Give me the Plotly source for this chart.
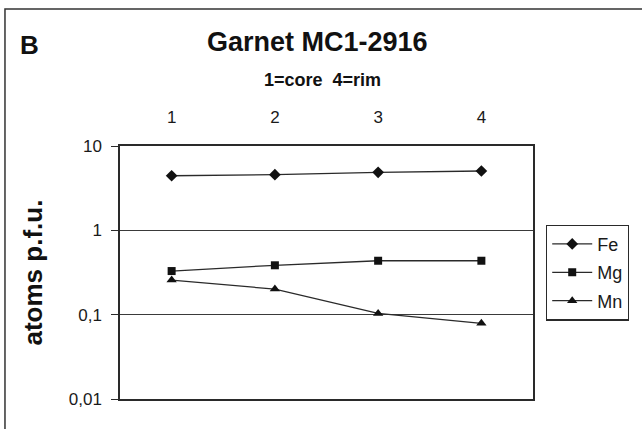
import plotly.graph_objects as go

points = ["1", "2", "3", "4"]
fe = [4.44, 4.57, 4.87, 5.05]
mg = [0.329, 0.385, 0.436, 0.436]
mn = [0.257, 0.201, 0.1035, 0.079]
series_names = ["Fe", "Mg", "Mn"]
y_tickvals = [0.01, 0.1, 1, 10]
y_ticktext = ["0,01", "0,1", "1", "10"]

FONT = "Liberation Sans, Arial, sans-serif"
INK = "#1a1a1a"
LINE = "#2a2a2a"

fig = go.Figure()
for name, vals, sym, size in zip(series_names, [fe, mg, mn],
                                  ["diamond", "square", "triangle-up"], [9, 8, 9]):
    fig.add_trace(go.Scatter(
        x=points, y=vals, name=name, mode="lines+markers",
        line=dict(color=LINE, width=1.3),
        marker=dict(symbol=sym, size=size, color="#111"),
        legendgroup=name,
    ))

fig.update_layout(
    width=642, height=429,
    margin=dict(l=120, r=109, t=146, b=30),
    paper_bgcolor="white", plot_bgcolor="white",
    font=dict(family=FONT, color=INK, size=18),
    showlegend=True,
    legend=dict(
        x=1.0315, y=0.5, xanchor="left", yanchor="middle",
        bordercolor=LINE, borderwidth=1.2, bgcolor="white",
        font=dict(size=18, family=FONT, color=INK),
        traceorder="grouped", tracegroupgap=2, itemwidth=40,
    ),
    xaxis=dict(
        type="category", side="top", range=[-0.5, 3.5],
        showgrid=False, ticks="", showline=True, mirror=True,
        linecolor=LINE, linewidth=1.5, ticklabelstandoff=14,
        tickfont=dict(size=17),
    ),
    yaxis=dict(
        type="log", range=[-2, 1], tickvals=y_tickvals, ticktext=y_ticktext,
        showgrid=True, gridcolor="#3a3a3a", gridwidth=1.2,
        ticks="outside", ticklen=7, tickcolor=LINE, tickwidth=1.3,
        showline=True, mirror=True, linecolor=LINE, linewidth=1.5,
        tickfont=dict(size=17), zeroline=False, ticklabelstandoff=6,
    ),
    shapes=[dict(type="rect", xref="paper", yref="paper",
                 x0=-0.2785, x1=1.6, y0=-0.5, y1=1.5415,
                 line=dict(color="#333", width=1.5))],
    annotations=[
        dict(text="<b>Garnet MC1-2916</b>", xref="paper", yref="paper",
             x=0.478, y=1.411, showarrow=False, xanchor="center", yanchor="middle",
             font=dict(size=27, family=FONT, color="#111")),
        dict(text="<b>1=core\u00a0\u00a04=rim</b>", xref="paper", yref="paper",
             x=0.490, y=1.261, showarrow=False, xanchor="center", yanchor="middle",
             font=dict(size=18, family=FONT, color="#111")),
        dict(text="<b>B</b>", xref="paper", yref="paper",
             x=-0.218, y=1.399, showarrow=False, xanchor="center", yanchor="middle",
             font=dict(size=26, family=FONT, color="#111")),
        dict(text="<b>atoms p.f.u.</b>", xref="paper", yref="paper",
             x=-0.213, y=0.5, showarrow=False, textangle=-90,
             xanchor="center", yanchor="middle",
             font=dict(size=26, family=FONT, color="#111")),
    ],
)

fig.write_html("out.html", config={"displayModeBar": False},
               post_script="document.body.style.margin='0';")
